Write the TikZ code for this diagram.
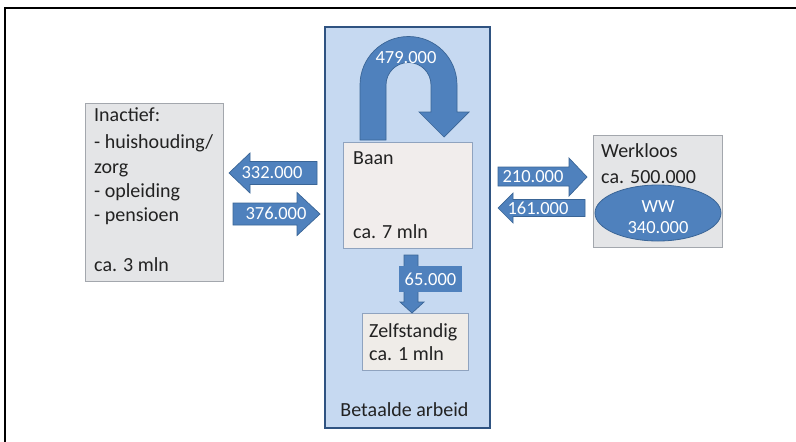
\documentclass[tikz,border=0pt]{standalone}
\usepackage{fontspec}
\setmainfont{Carlito}
\usetikzlibrary{shapes.geometric}

\definecolor{flowblue}{HTML}{4F81BD}
\definecolor{flowedge}{HTML}{3A6596}
\definecolor{panelblue}{HTML}{C6D9F1}
\definecolor{paneledge}{HTML}{2F5381}
\definecolor{jobfill}{HTML}{F1EDEC}
\definecolor{jobedge}{HTML}{8FA3BF}
\definecolor{greyfill}{HTML}{E4E5E7}
\definecolor{greyedge}{HTML}{A3A7AD}
\definecolor{selffill}{HTML}{EFECE8}
\definecolor{selfedge}{HTML}{8FA3BF}
\definecolor{inktext}{HTML}{222222}

\begin{document}
\begin{tikzpicture}[x=1pt,y=-1pt,
  panel/.style={draw=paneledge, fill=panelblue, line width=1.2pt, inner sep=0pt},
  statebox/.style={draw=#1edge, fill=#1fill, line width=0.8pt, inner sep=0pt},
  flow/.style={fill=flowblue, draw=flowedge, line width=0.7pt, line join=miter},
  flowtext/.style={text=white, font=\fontsize{18.5}{22}\selectfont, inner sep=0pt},
  bodytext/.style={text=inktext, font=\fontsize{20}{24}\selectfont, inner sep=0pt, anchor=base west},
]
\useasboundingbox (0,0) rectangle (796,442);
\fill[white] (0,0) rectangle (796,442);

% frame lines along the top and left edge
\draw[line width=2pt] (5,442) -- (5,8) -- (796,8);

% paid work panel
\node[panel, minimum width=165pt, minimum height=401pt] (paid) at (407.5,227.5) {};
\node[text=inktext, font=\fontsize{20}{24}\selectfont, inner sep=0pt] (paidlabel) at (404.5,410) {Betaalde arbeid};

% job box
\node[statebox=job, minimum width=129pt, minimum height=106pt] (baan) at (407.5,195) {};
\node[bodytext] (baantop) at (353,164) {Baan};
\node[bodytext] (baanbot) at (353,238) {ca. 7 mln};

% self-employed box
\node[statebox=self, minimum width=106pt, minimum height=57pt] (zelf) at (415,341.5) {};
\node[bodytext] (zelftop) at (369,337) {Zelfstandig};
\node[bodytext] (zelfbot) at (369,360) {ca. 1 mln};

% inactive box
\node[statebox=grey, minimum width=138pt, minimum height=178pt] (inactief) at (154,192) {};
\node[bodytext] (in1) at (94,121) {Inactief:};
\node[bodytext] (in2) at (94,148) {- huishouding/};
\node[bodytext] (in3) at (94,173) {zorg};
\node[bodytext] (in4) at (94,197) {- opleiding};
\node[bodytext] (in5) at (94,221) {- pensioen};
\node[bodytext] (in6) at (94,271) {ca. 3 mln};

% unemployed box with benefit ellipse
\node[statebox=grey, minimum width=129pt, minimum height=112pt] (werkloos) at (657.5,191) {};
\node[bodytext] (wl1) at (601,157) {Werkloos};
\node[bodytext] (wl2) at (601,183) {ca. 500.000};
\node[ellipse, fill=flowblue, draw=flowedge, line width=0.8pt, minimum width=126pt, minimum height=56pt, inner sep=0pt] (ww) at (658,213) {};
\node[flowtext, anchor=base] (wwtop) at (658,212) {WW};
\node[flowtext, anchor=base] (wwbot) at (658,233) {340.000};

% staying in a job: u-turn arrow
\filldraw[flow] (360,140) -- (360,85)
  .. controls (360,58.2) and (381.7,36.5) .. (408.5,36.5)
  .. controls (435.3,36.5) and (457,58.2) .. (457,85)
  -- (457,112) -- (469,112) -- (444,137) -- (419,112) -- (431,112) -- (431,85)
  .. controls (431,72.6) and (420.9,62.5) .. (408.5,62.5)
  .. controls (396.1,62.5) and (386,72.6) .. (386,85)
  -- (386,140) -- cycle;
\node[flowtext] (stay) at (406,58) {479.000};

% job to inactive and back
\filldraw[flow] (317,161.5) -- (250,161.5) -- (250,153) -- (229,173) -- (250,193) -- (250,184.5) -- (317,184.5) -- cycle;
\node[flowtext] (toinact) at (272,172.5) {332.000};
\filldraw[flow] (233,203) -- (297,203) -- (297,192.5) -- (320,214) -- (297,235.5) -- (297,225) -- (233,225) -- cycle;
\node[flowtext] (fromin) at (276,213.5) {376.000};

% job to unemployed and back
\filldraw[flow] (498,167) -- (569,167) -- (569,158) -- (587,177) -- (569,196) -- (569,186) -- (498,186) -- cycle;
\node[flowtext] (towl) at (533,176.5) {210.000};
\filldraw[flow] (585,199.5) -- (513,199.5) -- (513,193) -- (498,208) -- (513,223) -- (513,216.5) -- (585,216.5) -- cycle;
\node[flowtext] (fromwl) at (538,208.5) {161.000};

% job to self-employed
\filldraw[flow] (404,255) -- (418,255) -- (418,302) -- (424,302) -- (412,313) -- (400,302) -- (404,302) -- cycle;
\node[fill=flowblue, minimum width=63pt, minimum height=26pt, inner sep=0pt] (selfbg) at (430.5,279) {};
\node[flowtext] (toself) at (430.5,279) {65.000};
\end{tikzpicture}
\end{document}
